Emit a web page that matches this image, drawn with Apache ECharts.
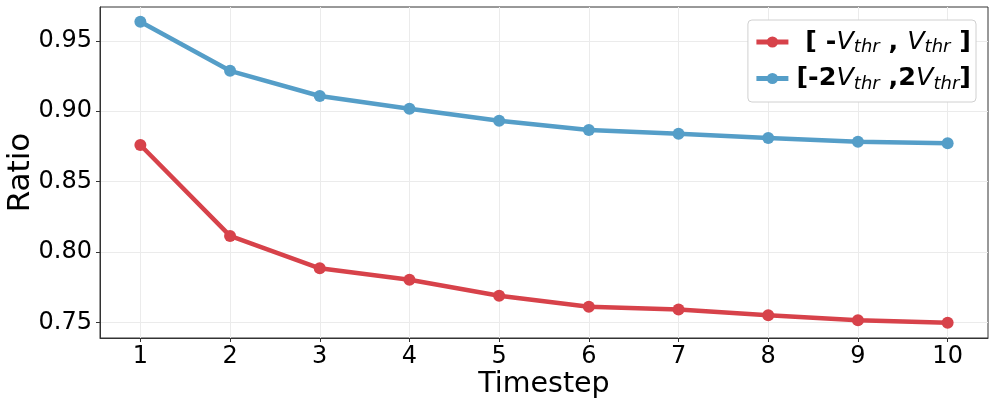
<!DOCTYPE html>
<html>
<head>
<meta charset="utf-8">
<script src="https://cdn.jsdelivr.net/npm/echarts@6/dist/echarts.min.js"></script>
<style>html,body{margin:0;padding:0;background:#fff}#c{width:996px;height:409px}</style>
</head>
<body>
<div id="c"></div>
<script>
var timesteps = [1, 2, 3, 4, 5, 6, 7, 8, 9, 10];
var ratio1 = [0.876, 0.8115, 0.7885, 0.7803, 0.7690, 0.7612, 0.7592, 0.7552, 0.7516, 0.7498];
var ratio2 = [0.9635, 0.9287, 0.9108, 0.9018, 0.8933, 0.8866, 0.8840, 0.8810, 0.8784, 0.8772];
var yTicks = [0.75, 0.80, 0.85, 0.90, 0.95];
var xTicks = [1, 2, 3, 4, 5, 6, 7, 8, 9, 10];
var seriesNames = ['[ -Vthr , Vthr ]', '[-2Vthr ,2Vthr]'];

var FONT = 'DejaVu Sans';
var red = '#d7424a', blue = '#559ec8';

function pairs(ys) { return timesteps.map(function (t, i) { return [t, ys[i]]; }); }

var legendFmt = {};
legendFmt[seriesNames[0]] = '{f| [ -}{i|V}{s|thr}{b| , }{i|V}{s|thr}{b| ]}';
legendFmt[seriesNames[1]] = '{f|[-2}{i|V}{s|thr}{b| ,2}{i|V}{s|thr}{b|]}';

var chart = echarts.init(document.getElementById('c'), null, {renderer: 'canvas'});
chart.setOption({
  animation: false,
  backgroundColor: '#fff',
  grid: {left: 100, right: 8, top: 7, bottom: 71, show: true, borderColor: '#333', borderWidth: 1,
         containLabel: false, outerBoundsMode: 'none'},
  legend: {
    right: 20, top: 20,
    orient: 'vertical',
    backgroundColor: '#fff',
    borderColor: '#d0d0d0', borderWidth: 1, borderRadius: 4,
    padding: [9, 5, 9, 6],
    itemWidth: 32, itemHeight: 14, itemGap: 9,
    lineStyle: {width: 5},
    formatter: function (n) { return legendFmt[n]; },
    textStyle: {
      fontFamily: FONT, fontSize: 25.5, color: '#000',
      rich: {
        f: {fontFamily: FONT, fontSize: 25.5, fontWeight: 'bold', color: '#000', padding: [0, 0, 0, 3]},
        b: {fontFamily: FONT, fontSize: 25.5, fontWeight: 'bold', color: '#000'},
        i: {fontFamily: FONT, fontSize: 25.5, fontStyle: 'italic', color: '#000'},
        s: {fontFamily: FONT, fontSize: 18, fontStyle: 'italic', color: '#000', verticalAlign: 'bottom', padding: [11, 0, 0, 0]}
      }
    },
    data: seriesNames
  },
  xAxis: {
    type: 'value', min: 0.55, max: 10.45,
    name: 'Timestep', nameLocation: 'middle', nameGap: 32, nameMoveOverlap: false,
    nameTextStyle: {fontFamily: FONT, fontSize: 28.5, color: '#000'},
    axisLine: {show: true, onZero: false, lineStyle: {color: '#333', width: 1}},
    axisTick: {show: true, length: 4, lineStyle: {color: '#333'}, customValues: xTicks},
    axisLabel: {fontFamily: FONT, fontSize: 24, color: '#000', margin: 7, customValues: xTicks, formatter: function (v) { return String(v); }},
    splitLine: {show: true, lineStyle: {color: '#ebebeb', width: 1}}
  },
  yAxis: {
    type: 'value', min: 0.739, max: 0.974,
    name: 'Ratio', nameLocation: 'middle', nameGap: 79, nameMoveOverlap: false,
    nameTextStyle: {fontFamily: FONT, fontSize: 31, color: '#000', verticalAlign: 'middle'},
    axisLine: {show: true, onZero: false, lineStyle: {color: '#333', width: 1}},
    axisTick: {show: true, length: 4, lineStyle: {color: '#333'}, customValues: yTicks},
    axisLabel: {fontFamily: FONT, fontSize: 24, color: '#000', margin: 8, customValues: yTicks, formatter: function (v) { return v.toFixed(2); }},
    splitLine: {show: true, lineStyle: {color: '#ebebeb', width: 1}}
  },
  series: [
    {name: seriesNames[0], type: 'line', data: pairs(ratio1), color: red,
     symbol: 'circle', symbolSize: 12, lineStyle: {width: 4.5, color: red}, itemStyle: {color: red}},
    {name: seriesNames[1], type: 'line', data: pairs(ratio2), color: blue,
     symbol: 'circle', symbolSize: 12, lineStyle: {width: 4.5, color: blue}, itemStyle: {color: blue}}
  ]
});
</script>
</body>
</html>
